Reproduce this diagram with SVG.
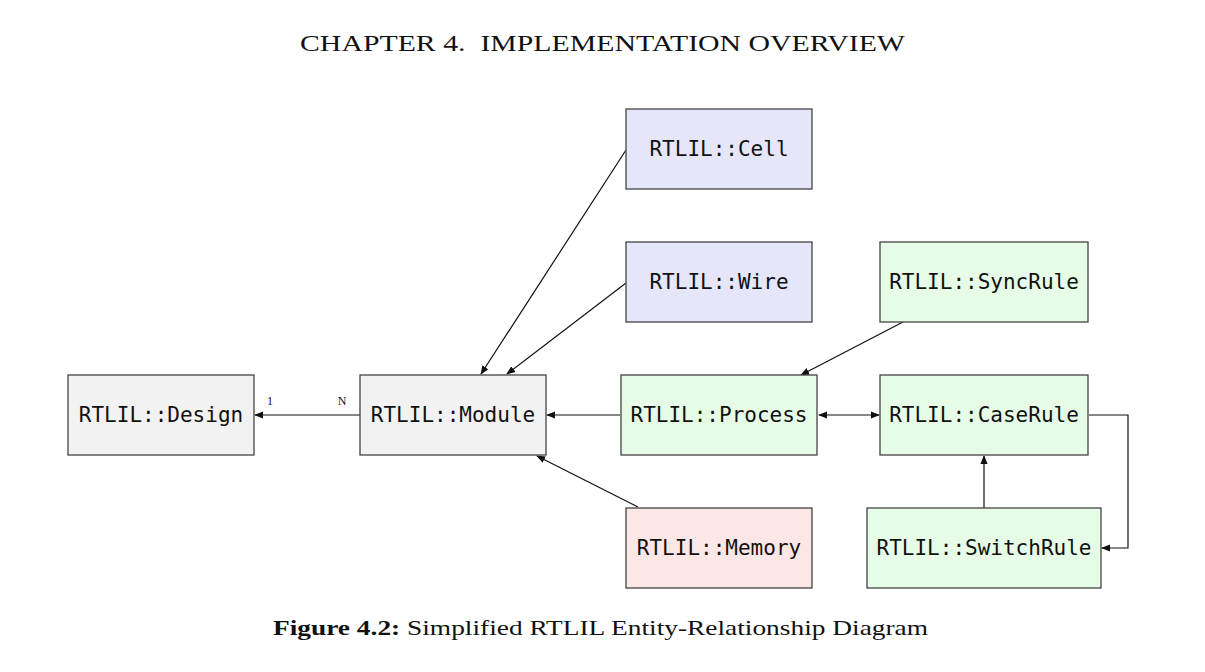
<svg xmlns="http://www.w3.org/2000/svg" width="1205" height="672" viewBox="0 0 1205 672">
<style>
.node rect{stroke:#444;stroke-width:1.3}
.node text{font-family:"DejaVu Sans Mono","Liberation Mono",monospace;font-size:21px;fill:#111;text-anchor:middle}
.gray{fill:#f2f2f2}.blue{fill:#e6e6fb}.green{fill:#e6fce6}.red{fill:#fde6e6}
.edge{stroke:#111;stroke-width:1.2;fill:none}
.serif{font-family:"Liberation Serif","Times New Roman",serif;fill:#111}
</style>
<defs>
<marker id="arr" viewBox="0 0 10 10" refX="9" refY="5" markerWidth="9" markerHeight="9" markerUnits="userSpaceOnUse" orient="auto-start-reverse">
<path d="M0,1 L10,5 L0,9 Z" fill="#111"/>
</marker>
</defs>
<rect width="1205" height="672" fill="#fff"/>
<text class="serif" x="300" y="51" font-size="23" textLength="605" lengthAdjust="spacingAndGlyphs" xml:space="preserve">CHAPTER 4.  IMPLEMENTATION OVERVIEW</text>

<g id="connectors">
<line class="edge" x1="360" y1="415" x2="255" y2="415" marker-end="url(#arr)"/>
<line class="edge" x1="626" y1="150" x2="481" y2="374" marker-end="url(#arr)"/>
<line class="edge" x1="626" y1="283" x2="507" y2="374" marker-end="url(#arr)"/>
<line class="edge" x1="620" y1="415" x2="547" y2="415" marker-end="url(#arr)"/>
<line class="edge" x1="638" y1="507" x2="537" y2="456" marker-end="url(#arr)"/>
<line class="edge" x1="903" y1="322" x2="801" y2="375" marker-end="url(#arr)"/>
<line class="edge" x1="819" y1="415" x2="879" y2="415" marker-start="url(#arr)" marker-end="url(#arr)"/>
<line class="edge" x1="984" y1="508" x2="984" y2="456" marker-end="url(#arr)"/>
<polyline class="edge" points="1089,415 1128,415 1128,548 1102,548" marker-end="url(#arr)"/>
<text class="serif" x="270" y="405" font-size="12" text-anchor="middle" fill="#111">1</text>
<text class="serif" x="342" y="405" font-size="12" text-anchor="middle" fill="#111">N</text>
</g>

<g id="design" class="node"><rect class="gray" x="68" y="375" width="186" height="80"/><text x="161" y="422">RTLIL::Design</text></g>
<g id="module" class="node"><rect class="gray" x="360" y="375" width="186" height="80"/><text x="453" y="422">RTLIL::Module</text></g>
<g id="cell" class="node"><rect class="blue" x="626" y="109" width="186" height="80"/><text x="719" y="156">RTLIL::Cell</text></g>
<g id="wire" class="node"><rect class="blue" x="626" y="242" width="186" height="80"/><text x="719" y="289">RTLIL::Wire</text></g>
<g id="process" class="node"><rect class="green" x="621" y="375" width="196" height="80"/><text x="719" y="422">RTLIL::Process</text></g>
<g id="memory" class="node"><rect class="red" x="626" y="508" width="186" height="80"/><text x="719" y="555">RTLIL::Memory</text></g>
<g id="syncrule" class="node"><rect class="green" x="880" y="242" width="208" height="80"/><text x="984" y="289">RTLIL::SyncRule</text></g>
<g id="caserule" class="node"><rect class="green" x="880" y="375" width="208" height="80"/><text x="984" y="422">RTLIL::CaseRule</text></g>
<g id="switchrule" class="node"><rect class="green" x="867" y="508" width="234" height="80"/><text x="984" y="555">RTLIL::SwitchRule</text></g>

<text class="serif" x="273" y="635" font-size="21" textLength="655" lengthAdjust="spacingAndGlyphs"><tspan font-weight="bold">Figure 4.2:</tspan> Simplified RTLIL Entity-Relationship Diagram</text>
</svg>
